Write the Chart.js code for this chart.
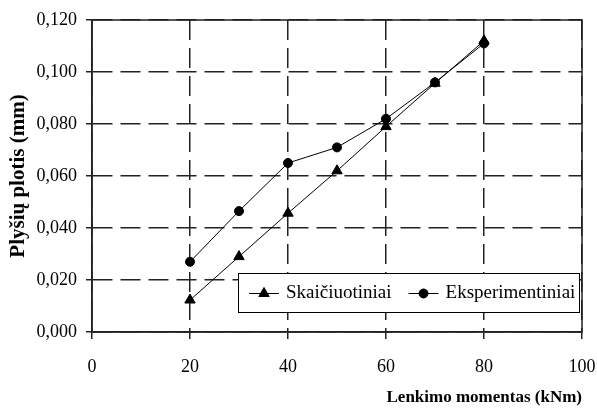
<!DOCTYPE html>
<html>
<head>
<meta charset="utf-8">
<style>
  html, body { margin: 0; padding: 0; background: #fff; }
  #wrap { width: 597px; height: 410px; }
</style>
<script src="https://cdn.jsdelivr.net/npm/chart.js@4.4.0/dist/chart.umd.min.js"></script>
</head>
<body>
<div id="wrap"><canvas id="crack"></canvas></div>
<script>
const moments = [20, 30, 40, 50, 60, 70, 80];
const calculated = [0.0123, 0.029, 0.0457, 0.062, 0.079, 0.0957, 0.112];
const experimental = [0.027, 0.0465, 0.065, 0.071, 0.082, 0.096, 0.111];
const seriesNames = ['Skaičiuotiniai', 'Eksperimentiniai'];

const serif = '"Liberation Serif", "Times New Roman", serif';

// solid frame round the plot area
const frame = {
  id: 'frame',
  beforeDatasetsDraw(chart) {
    const { ctx, chartArea: a } = chart;
    ctx.save();
    ctx.strokeStyle = '#222';
    ctx.lineWidth = 1.5;
    ctx.strokeRect(a.left, a.top, a.right - a.left, a.bottom - a.top);
    ctx.restore();
  }
};

// boxed legend inside the plot, bottom right
const boxLegend = {
  id: 'boxLegend',
  afterDatasetsDraw(chart) {
    const { ctx, chartArea: a } = chart;
    const x0 = a.left + 146, y0 = a.bottom - 59, w = 341, h = 39;
    ctx.save();
    ctx.fillStyle = '#fff';
    ctx.fillRect(x0, y0, w, h);
    ctx.strokeStyle = '#000';
    ctx.lineWidth = 1;
    ctx.strokeRect(x0 + 0.5, y0 + 0.5, w, h);
    ctx.font = '19px ' + serif;
    ctx.textBaseline = 'middle';
    ctx.textAlign = 'left';
    const cy = y0 + h / 2 + 1;
    let x = x0 + 11;
    chart.data.datasets.forEach(ds => {
      ctx.strokeStyle = '#000';
      ctx.fillStyle = '#000';
      ctx.lineWidth = 1;
      ctx.beginPath();
      ctx.moveTo(x, cy);
      ctx.lineTo(x + 30, cy);
      ctx.stroke();
      Chart.helpers.drawPoint(ctx, {
        pointStyle: ds.pointStyle, radius: ds.pointRadius, rotation: 0, borderWidth: 1
      }, x + 15, cy);
      ctx.fillText(ds.label, x + 37, cy);
      x += 37 + ctx.measureText(ds.label).width + 17;
    });
    ctx.restore();
  }
};

new Chart(document.getElementById('crack'), {
  type: 'line',
  data: {
    datasets: [
      {
        label: seriesNames[0],
        data: moments.map((m, i) => ({ x: m, y: calculated[i] })),
        borderColor: '#000',
        backgroundColor: '#000',
        borderWidth: 1,
        pointStyle: 'triangle',
        pointRadius: 6,
        pointBorderWidth: 1
      },
      {
        label: seriesNames[1],
        data: moments.map((m, i) => ({ x: m, y: experimental[i] })),
        borderColor: '#000',
        backgroundColor: '#000',
        borderWidth: 1,
        pointStyle: 'circle',
        pointRadius: 4.5,
        pointBorderWidth: 1
      }
    ]
  },
  options: {
    responsive: true,
    maintainAspectRatio: false,
    animation: false,
    layout: { padding: { top: 20, right: 0, left: 0, bottom: 0 } },
    plugins: {
      legend: { display: false },
      tooltip: { enabled: false }
    },
    scales: {
      x: {
        type: 'linear',
        min: 0,
        max: 100,
        afterFit(s) { s.height = 78; s.paddingRight = 15; },
        ticks: {
          stepSize: 20,
          padding: 17,
          color: '#000',
          font: { family: serif, size: 18 }
        },
        grid: {
          color: '#222',
          lineWidth: 1.5,
          tickLength: 7,
          tickColor: '#222',
          tickWidth: 1.5
        },
        border: { color: '#222', width: 1.5, dash: [20, 8] },
        title: {
          display: true,
          text: 'Lenkimo momentas (kNm)',
          align: 'end',
          color: '#000',
          font: { family: serif, size: 17, weight: 'bold' },
          padding: { top: 0, bottom: 2 }
        }
      },
      y: {
        min: 0,
        max: 0.12,
        afterFit(s) { s.width = 92; },
        ticks: {
          stepSize: 0.02,
          padding: 9,
          color: '#000',
          font: { family: serif, size: 18 },
          callback: v => v.toFixed(3).replace('.', ',')
        },
        grid: {
          color: '#222',
          lineWidth: 1.5,
          tickLength: 6,
          tickColor: '#222',
          tickWidth: 1.5
        },
        border: { color: '#222', width: 1.5, dash: [20, 8] },
        title: {
          display: true,
          text: 'Plyšių plotis (mm)',
          color: '#000',
          font: { family: serif, size: 21, weight: 'bold' },
          padding: { top: 6, bottom: 0 }
        }
      }
    }
  },
  plugins: [frame, boxLegend]
});
</script>
</body>
</html>
